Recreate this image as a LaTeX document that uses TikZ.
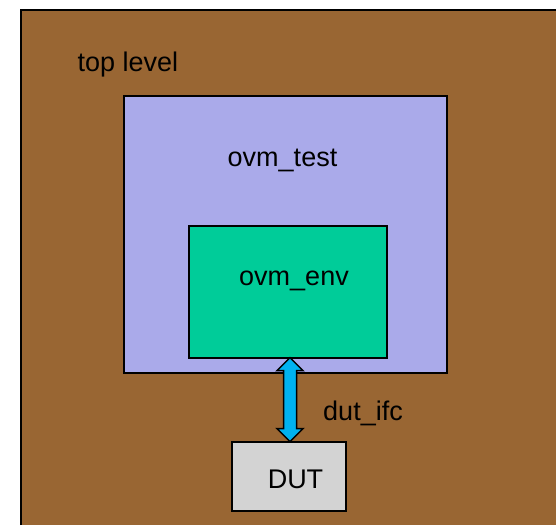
\documentclass[tikz,border=0pt]{standalone}
\usepackage{fontspec}
\setmainfont{Liberation Sans}
\usetikzlibrary{calc}
\definecolor{topbrown}{HTML}{996633}
\definecolor{testblue}{HTML}{AAAAEA}
\definecolor{envgreen}{HTML}{00CC99}
\definecolor{ifccyan}{HTML}{00B2F0}
\definecolor{dutgray}{HTML}{D3D3D3}
\begin{document}
\begin{tikzpicture}[x=1pt,y=-1pt,
  blockbox/.style={draw=black, line width=2pt, minimum width=#1, inner sep=0pt, outer sep=0pt},
  lbl/.style={font=\fontsize{27}{32}\selectfont, anchor=base, inner sep=0pt}]
\useasboundingbox (0,0) rectangle (556,525);
\fill[white] (0,0) rectangle (556,525);
% outer top level block (extends beyond the picture)
\fill[topbrown] (21,10) rectangle (556,525);
\draw[line width=1.5pt] (21,525) -- (21,10) -- (556,10);
\node[lbl] (toplbl) at (128,71) {top level};
% ovm_test
\node[blockbox=323.5pt, minimum height=276.6pt, fill=testblue] (test) at (285.25,234.3) {};
\node[lbl] (testlbl) at (282.5,166) {ovm\_test};
% ovm_env
\node[blockbox=198.5pt, minimum height=132pt, fill=envgreen] (env) at (287.75,291.6) {};
\node[lbl] (envlbl) at (294,285.7) {ovm\_env};
% DUT
\node[blockbox=113.4pt, minimum height=69.3pt, fill=dutgray] (dut) at (289,476.3) {};
\node[lbl] (dutlbl) at (295.5,488) {DUT};
% double arrow dut_ifc
\coordinate (at) at ($(env.south)+(2.25,0)$);
\coordinate (ab) at ($(dut.north)+(1,0)$);
\draw[fill=ifccyan, line width=1.5pt, line join=miter]
  (at)
  -- ($(at)+(13,13)$) -- ($(at)+(6.5,13)$)
  -- ($(ab)+(6.5,-13)$) -- ($(ab)+(13,-13)$)
  -- (ab)
  -- ($(ab)+(-13,-13)$) -- ($(ab)+(-6.5,-13)$)
  -- ($(at)+(-6.5,13)$) -- ($(at)+(-13,13)$)
  -- cycle;
\node[lbl] (ifclbl) at (363,420) {dut\_ifc};
\end{tikzpicture}
\end{document}
